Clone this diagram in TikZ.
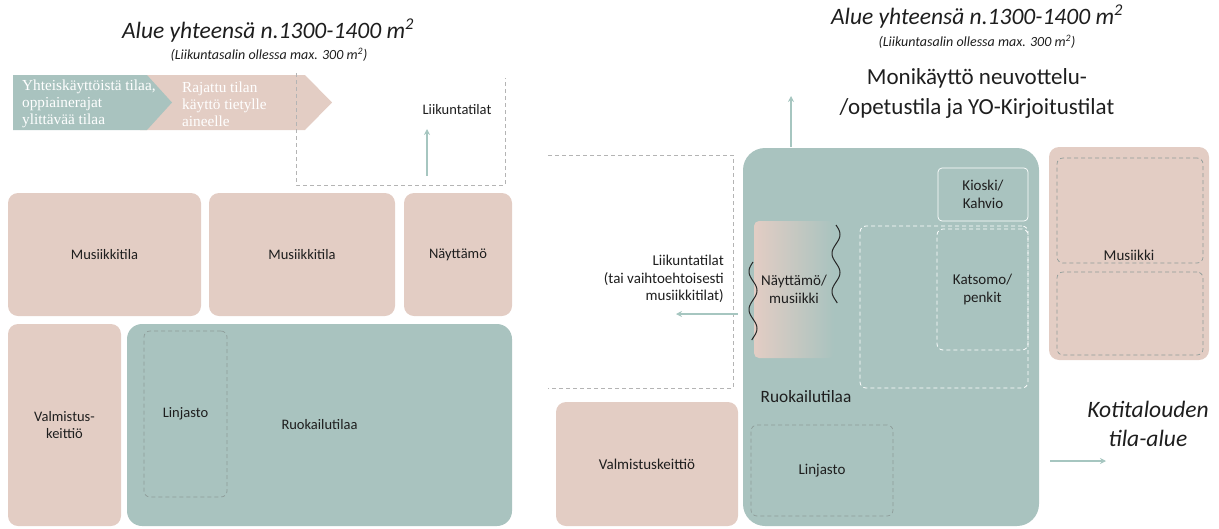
\documentclass[tikz,border=0pt]{standalone}
\usepackage{fontspec}
\setmainfont{Carlito}
\newfontfamily\chevfont{Liberation Serif}
\usetikzlibrary{arrows.meta,shadings}
\definecolor{pinkc}{HTML}{E3CDC4}
\definecolor{tealc}{HTML}{A9C3BF}
\definecolor{arrc}{HTML}{A6C6C0}
\definecolor{dgray}{HTML}{8E9C99}
\definecolor{lgray}{HTML}{B4B4B4}
\definecolor{txt}{HTML}{1E1E1E}
\tikzset{
  fs/.style={font=\fontsize{#1}{1.2\dimexpr#1pt\relax}\selectfont},
  pinkbox/.style={fill=pinkc, rounded corners=10pt, inner sep=0pt, text=txt, align=center, fs=14.5},
  tealbox/.style={fill=tealc, rounded corners=15pt, inner sep=0pt, text=txt, align=center, fs=14.5},
  dashbox/.style={draw=dgray, dash pattern=on 4pt off 3pt, line width=0.7pt, rounded corners=6pt, inner sep=0pt, text=txt, align=center, fs=14.5},
  wdashbox/.style={draw=white, dash pattern=on 4pt off 3pt, line width=0.8pt, rounded corners=6pt, inner sep=0pt, text=txt, align=center, fs=15},
  ubox/.style={draw=lgray, dash pattern=on 4pt off 3pt, line width=0.7pt},
  lab/.style={text=txt, align=center, inner sep=0pt},
  arr/.style={draw=arrc, line width=1.3pt, -{Stealth[length=6pt,width=6pt]}},
  wave/.style={draw=black!85, line width=1pt},
}
\begin{document}
\begin{tikzpicture}[x=1pt,y=-1pt]
\useasboundingbox (0,0) rectangle (1219,528);

% ---------------- left panel ----------------
\node[lab, fs=23.5] (t1) at (268,31) {\itshape Alue yhteensä n.1300-1400 m\textsuperscript{2}};
\node[lab, fs=14] (s1) at (269,55) {\itshape (Liikuntasalin ollessa max. 300 m\textsuperscript{2})};

% chevrons
\fill[pinkc] (140,75) -- (305,75) -- (332,102.5) -- (305,130) -- (140,130) -- cycle;
\fill[tealc] (13,75) -- (147,75) -- (172,102.5) -- (147,130) -- (13,130) -- cycle;
\node[anchor=west, text=white, align=left, inner sep=0pt, font=\chevfont\fontsize{15.3}{17}\selectfont] (c1) at (22,104) {Yhteiskäyttöistä tilaa,\\oppiainerajat\\ylittävää tilaa};
\node[anchor=west, text=white, align=left, inner sep=0pt, font=\chevfont\fontsize{15.3}{17}\selectfont] (c2) at (182,104) {Rajattu tilan\\käyttö tietylle\\aineelle};

% open dashed area
\draw[ubox] (296,73) -- (296,185) -- (505,185) -- (505,78);
\node[lab, fs=14.5] (liik1) at (457,110) {Liikuntatilat};
\coordinate (a1s) at (427,176);
\coordinate (a1e) at (427,129);
\draw[arr] (a1s) -- (a1e);

\node[pinkbox, minimum width=193pt, minimum height=123pt] (m1) at (104.5,254.5) {Musiikkitila};
\node[pinkbox, minimum width=186pt, minimum height=123pt] (m2) at (302,254.5) {Musiikkitila};
\node[pinkbox, minimum width=108pt, minimum height=123pt] (nay) at (458,254.5) {Näyttämö};
\node[pinkbox, minimum width=113pt, minimum height=202pt] (valm) at (64.5,425) {Valmistus-\\keittiö};
\node[tealbox, minimum width=385pt, minimum height=202pt] (ruok) at (319.5,425) {Ruokailutilaa};
\node[dashbox, minimum width=83pt, minimum height=166pt] (linj) at (185.5,414) {Linjasto};

% ---------------- right panel ----------------
\node[lab, fs=23.5] (t2) at (977,17) {\itshape Alue yhteensä n.1300-1400 m\textsuperscript{2}};
\node[lab, fs=14] (s2) at (977,42) {\itshape (Liikuntasalin ollessa max. 300 m\textsuperscript{2})};
\node[lab, font=\fontsize{23}{30}\selectfont] (moni) at (977,93) {Monikäyttö neuvottelu-\\/opetustila ja YO-Kirjoitustilat};

\draw[ubox] (548,155) -- (733,155) -- (733,388) -- (548,388);

\node[tealbox, rounded corners=22pt, minimum width=296pt, minimum height=378pt] (big) at (891,337) {};
\node[lab, fs=17.3] (ruok2) at (806,397) {Ruokailutilaa};

\node[pinkbox, fs=15, minimum width=182pt, minimum height=124pt] (valm2) at (647,464) {Valmistuskeittiö};
\node[dashbox, fs=15, minimum width=142pt, minimum height=91pt] (linj2) at (822,470.5) {Linjasto};

\node[rounded corners=5pt, left color=pinkc, middle color=pinkc, right color=tealc, inner sep=0pt, minimum width=80pt, minimum height=137pt, text=txt, align=center, fs=15] (naym) at (794,289.5) {Näyttämö/\\musiikki};
\draw[wave] plot[domain=0:78, samples=80, smooth] ({753+4*sin(\x*9.4737+180)}, {262+\x});
\draw[wave] plot[domain=0:78, samples=80, smooth] ({836+4*sin(\x*9.4737)}, {225+\x});

\node[draw=white, line width=0.7pt, rounded corners=4pt, inner sep=0pt, minimum width=90pt, minimum height=53pt, text=txt, align=center, fs=15] (kios) at (983,194.5) {Kioski/\\Kahvio};
\node[wdashbox, minimum width=168pt, minimum height=162pt] (katb) at (944,307) {};
\node[wdashbox, minimum width=91pt, minimum height=121pt] (kats) at (982.5,289.5) {Katsomo/\\penkit};

\node[pinkbox, minimum width=160pt, minimum height=213pt] (mus) at (1129,253.5) {};
\node[dashbox, minimum width=146pt, minimum height=105pt] (musu) at (1130,210.5) {};
\node[dashbox, minimum width=146pt, minimum height=83pt] (musl) at (1130,313.5) {};
\node[lab, fs=15] (mustxt) at (1129,255) {Musiikki};

\node[lab, anchor=east, align=right, font=\fontsize{15}{17.5}\selectfont] (liik2) at (724,279) {Liikuntatilat\\(tai vaihtoehtoisesti\\musiikkitilat)};
\node[lab, font=\fontsize{23.5}{29}\selectfont\itshape] (koti) at (1148,424) {Kotitalouden\\tila-alue};

\coordinate (a2s) at (791,147);
\coordinate (a2e) at (791,96);
\draw[arr] (a2s) -- (a2e);
\coordinate (a3s) at (738,314);
\coordinate (a3e) at (676,314);
\draw[arr] (a3s) -- (a3e);
\coordinate (a4s) at (1050,461);
\coordinate (a4e) at (1106,461);
\draw[arr] (a4s) -- (a4e);
\end{tikzpicture}
\end{document}
